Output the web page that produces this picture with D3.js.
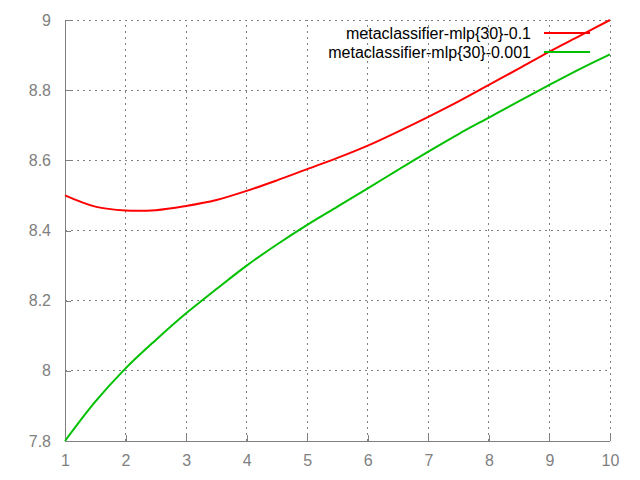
<!DOCTYPE html>
<html><head><meta charset="utf-8">
<script src="https://cdn.jsdelivr.net/npm/d3@7"></script>
<style>body{margin:0;background:#fff}</style>
</head><body><svg id="c" width="640" height="480"></svg>
<script>
const xs = [1,1.5,2,2.5,3,3.5,4,4.5,5,5.5,6,6.5,7,7.5,8,8.5,9,9.5,10];
const red = [8.50,8.468,8.457,8.458,8.47,8.487,8.513,8.543,8.575,8.607,8.642,8.682,8.724,8.768,8.815,8.862,8.91,8.955,9.0];
const green = [7.8,7.912,8.007,8.088,8.164,8.233,8.3,8.36,8.416,8.468,8.52,8.573,8.625,8.675,8.722,8.769,8.815,8.86,8.902];
const seriesNames = ["metaclassifier-mlp{30}-0.1","metaclassifier-mlp{30}-0.001"];
const colors = ["#ff0000","#00c000"];
const xTicks = [1,2,3,4,5,6,7,8,9,10];
const yTicks = [7.8,8,8.2,8.4,8.6,8.8,9];

const svg = d3.select("#c");
const L=65,R=610,T=20,B=441;
const x = d3.scaleLinear().domain([1,10]).range([L,R]);
const y = d3.scaleLinear().domain([7.8,9]).range([B,T]);
const font = "'Liberation Sans', Arial, sans-serif";

// grid
const g = svg.append("g");
xTicks.forEach(t=>{ if(t>1) g.append("line").attr("x1",x(t)).attr("x2",x(t)).attr("y1",B).attr("y2",T)
  .attr("stroke","#808080").attr("stroke-dasharray","2,4").attr("stroke-width",1).attr("shape-rendering","crispEdges"); });
yTicks.forEach(t=>{ if(t>7.8) g.append("line").attr("x1",L).attr("x2",R).attr("y1",y(t)).attr("y2",y(t))
  .attr("stroke","#808080").attr("stroke-dasharray","2,4").attr("stroke-width",1).attr("shape-rendering","crispEdges"); });

// axes
const xa = svg.append("g").attr("transform",`translate(0,${B})`)
  .call(d3.axisBottom(x).tickValues(xTicks).tickFormat(d3.format("d")).tickSize(-6).tickPadding(14));
const ya = svg.append("g").attr("transform",`translate(${L},0)`)
  .call(d3.axisLeft(y).tickValues(yTicks).tickFormat(d=>String(+d.toFixed(1))).tickSize(-6).tickPadding(14));
[xa,ya].forEach(a=>{
  a.select(".domain").attr("stroke","#808080").attr("shape-rendering","crispEdges");
  a.selectAll(".tick line").attr("stroke","#808080").attr("shape-rendering","crispEdges");
  a.selectAll("text").attr("fill","#808080").attr("font-family",font).attr("font-size","16px");
});
xa.select(".domain").attr("d",`M${L},0H${R}`);
ya.select(".domain").attr("d",`M0,${B}V${T}`);

// lines
const line = d3.line().x((d,i)=>x(xs[i])).y(d=>y(d)).curve(d3.curveCatmullRom);
[red,green].forEach((s,k)=>{
  svg.append("path").datum(s).attr("d",line).attr("fill","none").attr("stroke",colors[k]).attr("stroke-width",2);
});

// legend
seriesNames.forEach((n,k)=>{
  const yy = 33 + k*19;
  svg.append("text").attr("x",531).attr("y",yy).attr("dy","0.35em").attr("text-anchor","end")
    .attr("font-family",font).attr("font-size","16px").attr("fill","#000").text(n);
  svg.append("line").attr("x1",544).attr("x2",590).attr("y1",yy).attr("y2",yy)
    .attr("stroke",colors[k]).attr("stroke-width",2);
});
</script></body></html>
